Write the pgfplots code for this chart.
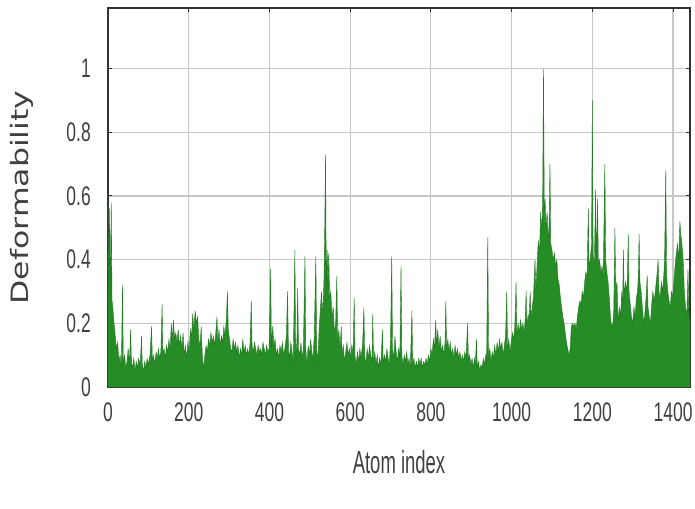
\documentclass[border=0pt]{standalone}
\usepackage{fontspec}
\setmainfont{Liberation Sans}
\newfontfamily\dejavu{DejaVu Sans}
\usepackage{graphicx}
\usepackage{pgfplots}
\pgfplotsset{compat=1.18}
\definecolor{fillgreen}{RGB}{38,140,38}
\definecolor{edgegreen}{RGB}{34,122,34}
\newcommand\sq[1]{\scalebox{0.65}[1]{#1}}
\begin{document}
\begin{tikzpicture}
\begin{axis}[
  scale only axis,
  width=582bp, height=379bp,
  xmin=0, xmax=1442, ymin=0, ymax=1.19,
  xtick={0,200,400,600,800,1000,1200,1400},
  xticklabels={\sq{0},\sq{200},\sq{400},\sq{600},\sq{800},\sq{1000},\sq{1200},\sq{1400}},
  ytick={0,0.2,0.4,0.6,0.8,1},
  yticklabels={\sq{0},\sq{0.2},\sq{0.4},\sq{0.6},\sq{0.8},\sq{1}},
  tick label style={font=\fontsize{27}{27}\selectfont, text=black!75},
  xticklabel style={inner sep=0pt, anchor=north, yshift=-16bp},
  yticklabel style={inner sep=0pt, anchor=east, xshift=-17bp},
  grid=major,
  major grid style={black!22, line width=1.2bp},
  axis line style={black!80, line width=1.4bp},
  tick style={black!80, line width=1bp},
  major tick length=4bp,
  tick align=inside,
  xlabel={\scalebox{0.58}[1]{Atom index}},
  ylabel={\scalebox{1.32}[1]{\dejavu Deformability}},
  xlabel style={font=\fontsize{32}{32}\selectfont, text=black!75, at={(axis description cs:0.5,-0.198)}, anchor=center},
  ylabel style={font=\fontsize{24}{24}\selectfont, text=black!75, at={(axis description cs:-0.1478,0.5)}, anchor=center},
]
\addplot[fill=fillgreen, draw=edgegreen, line width=0.4bp] coordinates {
(0,0.57)(2,0.30)(4,0.56)(6,0.28)(8,0.58)(10,0.27)(12,0.25)(15,0.2)(18,0.16)(21,0.12)(24,0.14)(27,0.08)(30,0.1)(33,0.06)(36,0.32)(38,0.07)(41,0.1)(44,0.06)(47,0.08)(50,0.12)(53,0.07)(56,0.18)(58,0.08)(61,0.06)(64,0.09)(67,0.05)(70,0.08)(73,0.06)(76,0.09)(80,0.07)(83,0.16)(85,0.07)(88,0.05)(91,0.08)(94,0.06)(97,0.09)(100,0.07)(104,0.1)(108,0.19)(110,0.08)(113,0.1)(116,0.07)(119,0.11)(122,0.09)(125,0.12)(128,0.09)(131,0.11)(134,0.26)(136,0.1)(139,0.12)(142,0.09)(145,0.13)(148,0.11)(151,0.15)(154,0.12)(157,0.2)(159,0.14)(162,0.21)(165,0.15)(168,0.17)(171,0.14)(174,0.18)(177,0.13)(180,0.16)(183,0.12)(186,0.17)(189,0.1)(192,0.13)(195,0.09)(198,0.14)(201,0.11)(204,0.18)(207,0.16)(210,0.23)(213,0.18)(216,0.24)(219,0.2)(222,0.22)(225,0.15)(228,0.13)(231,0.19)(234,0.09)(237,0.06)(240,0.1)(243,0.13)(246,0.11)(249,0.15)(252,0.13)(255,0.17)(258,0.14)(261,0.16)(264,0.13)(267,0.17)(270,0.22)(272,0.14)(275,0.18)(278,0.13)(281,0.16)(284,0.14)(287,0.19)(290,0.16)(293,0.21)(296,0.3)(298,0.18)(301,0.15)(304,0.12)(307,0.11)(310,0.15)(313,0.12)(316,0.14)(319,0.11)(322,0.13)(325,0.09)(328,0.12)(331,0.1)(334,0.15)(337,0.11)(340,0.13)(343,0.1)(346,0.12)(349,0.1)(352,0.14)(355,0.27)(357,0.13)(360,0.11)(363,0.14)(366,0.12)(369,0.1)(372,0.13)(375,0.11)(378,0.12)(381,0.1)(384,0.14)(387,0.12)(390,0.1)(393,0.13)(396,0.11)(399,0.12)(403,0.37)(405,0.12)(408,0.19)(411,0.13)(414,0.15)(417,0.1)(420,0.12)(423,0.09)(426,0.13)(429,0.11)(432,0.14)(435,0.1)(438,0.12)(442,0.16)(445,0.30)(447,0.12)(450,0.09)(453,0.14)(456,0.11)(459,0.08)(463,0.43)(465,0.1)(468,0.14)(470,0.31)(472,0.12)(475,0.1)(478,0.14)(481,0.09)(484,0.12)(488,0.41)(490,0.12)(493,0.07)(496,0.13)(499,0.1)(502,0.15)(505,0.11)(508,0.09)(511,0.16)(515,0.41)(517,0.12)(520,0.08)(523,0.18)(526,0.24)(529,0.3)(532,0.22)(535,0.33)(537,0.5)(539,0.73)(541,0.3)(543,0.43)(545,0.32)(547,0.42)(549,0.28)(552,0.3)(555,0.22)(558,0.25)(561,0.17)(564,0.2)(567,0.35)(569,0.14)(572,0.18)(575,0.12)(578,0.19)(580,0.1)(583,0.13)(586,0.08)(589,0.11)(592,0.14)(595,0.1)(598,0.12)(601,0.09)(604,0.13)(607,0.1)(610,0.28)(612,0.1)(615,0.07)(618,0.11)(621,0.08)(624,0.12)(627,0.09)(631,0.14)(634,0.25)(636,0.1)(639,0.07)(642,0.12)(645,0.09)(648,0.13)(651,0.1)(654,0.08)(656,0.23)(658,0.08)(661,0.11)(664,0.07)(667,0.1)(670,0.06)(673,0.09)(676,0.07)(680,0.18)(682,0.07)(685,0.1)(688,0.08)(691,0.12)(694,0.09)(697,0.07)(700,0.15)(703,0.41)(705,0.12)(708,0.09)(711,0.16)(714,0.11)(717,0.08)(720,0.12)(723,0.09)(726,0.38)(728,0.1)(731,0.07)(734,0.1)(737,0.08)(740,0.11)(743,0.07)(746,0.09)(749,0.06)(753,0.24)(755,0.07)(758,0.09)(761,0.06)(764,0.08)(767,0.06)(770,0.09)(773,0.07)(776,0.09)(779,0.06)(782,0.08)(785,0.07)(788,0.09)(791,0.07)(794,0.1)(797,0.08)(800,0.12)(803,0.1)(806,0.15)(809,0.12)(812,0.21)(814,0.13)(817,0.18)(820,0.12)(823,0.16)(826,0.11)(829,0.13)(832,0.1)(835,0.14)(837,0.27)(839,0.12)(842,0.15)(845,0.11)(848,0.14)(851,0.1)(854,0.12)(857,0.09)(860,0.13)(863,0.1)(866,0.12)(869,0.09)(872,0.11)(875,0.08)(878,0.1)(881,0.08)(884,0.11)(887,0.09)(891,0.20)(893,0.08)(896,0.1)(899,0.07)(902,0.09)(905,0.06)(908,0.09)(910,0.07)(913,0.15)(915,0.06)(918,0.08)(921,0.05)(924,0.07)(927,0.06)(930,0.09)(933,0.07)(936,0.1)(938,0.08)(941,0.47)(943,0.09)(946,0.12)(949,0.08)(952,0.11)(955,0.09)(958,0.13)(961,0.1)(964,0.14)(967,0.11)(970,0.15)(973,0.12)(976,0.14)(979,0.1)(982,0.13)(985,0.16)(988,0.3)(990,0.12)(993,0.15)(996,0.11)(999,0.14)(1002,0.17)(1005,0.15)(1008,0.19)(1011,0.33)(1013,0.16)(1016,0.2)(1019,0.17)(1022,0.21)(1025,0.18)(1028,0.2)(1031,0.17)(1034,0.22)(1036,0.30)(1038,0.19)(1041,0.23)(1043,0.2)(1046,0.30)(1048,0.22)(1051,0.25)(1054,0.28)(1058,0.40)(1060,0.3)(1063,0.38)(1066,0.46)(1069,0.42)(1072,0.55)(1075,0.48)(1077,0.6)(1079,1.0)(1081,0.55)(1083,0.59)(1085,0.5)(1088,0.55)(1091,0.45)(1093,0.52)(1095,0.70)(1097,0.45)(1100,0.43)(1103,0.4)(1106,0.42)(1109,0.38)(1112,0.4)(1115,0.34)(1118,0.32)(1121,0.28)(1124,0.25)(1127,0.22)(1130,0.2)(1133,0.17)(1136,0.14)(1139,0.12)(1142,0.1)(1145,0.12)(1148,0.19)(1151,0.2)(1154,0.19)(1157,0.2)(1160,0.18)(1163,0.22)(1166,0.25)(1169,0.27)(1172,0.26)(1175,0.3)(1178,0.28)(1181,0.33)(1184,0.36)(1187,0.34)(1190,0.56)(1192,0.38)(1195,0.4)(1198,0.45)(1200,0.90)(1202,0.42)(1205,0.38)(1208,0.62)(1210,0.39)(1213,0.59)(1215,0.38)(1218,0.4)(1221,0.36)(1224,0.38)(1227,0.35)(1231,0.70)(1233,0.4)(1236,0.36)(1239,0.33)(1242,0.28)(1245,0.22)(1248,0.19)(1251,0.2)(1253,0.24)(1256,0.50)(1258,0.3)(1261,0.33)(1264,0.2)(1267,0.25)(1270,0.22)(1273,0.3)(1275,0.25)(1277,0.43)(1279,0.28)(1282,0.33)(1285,0.3)(1287,0.35)(1289,0.48)(1291,0.3)(1294,0.26)(1297,0.22)(1300,0.2)(1303,0.25)(1306,0.22)(1309,0.28)(1312,0.3)(1314,0.35)(1316,0.48)(1318,0.33)(1321,0.3)(1324,0.25)(1327,0.2)(1330,0.23)(1333,0.28)(1336,0.35)(1338,0.25)(1341,0.22)(1344,0.2)(1347,0.26)(1350,0.3)(1353,0.27)(1356,0.3)(1360,0.35)(1363,0.40)(1365,0.3)(1368,0.28)(1371,0.33)(1374,0.3)(1377,0.35)(1379,0.4)(1382,0.68)(1384,0.35)(1387,0.3)(1390,0.27)(1393,0.25)(1396,0.3)(1399,0.28)(1402,0.33)(1405,0.38)(1408,0.42)(1411,0.45)(1414,0.4)(1417,0.52)(1419,0.48)(1422,0.45)(1425,0.4)(1428,0.3)(1431,0.25)(1434,0.22)(1437,0.37)(1439,0.24)(1442,0.2)
} \closedcycle;
\coordinate (SW) at (rel axis cs:0,0);
\coordinate (NE) at (rel axis cs:1,1);
\end{axis}
\pgfresetboundingbox
\path[use as bounding box] ([xshift=-108bp,yshift=-122bp]SW) rectangle ([xshift=5bp,yshift=8bp]NE);
\end{tikzpicture}
\end{document}
